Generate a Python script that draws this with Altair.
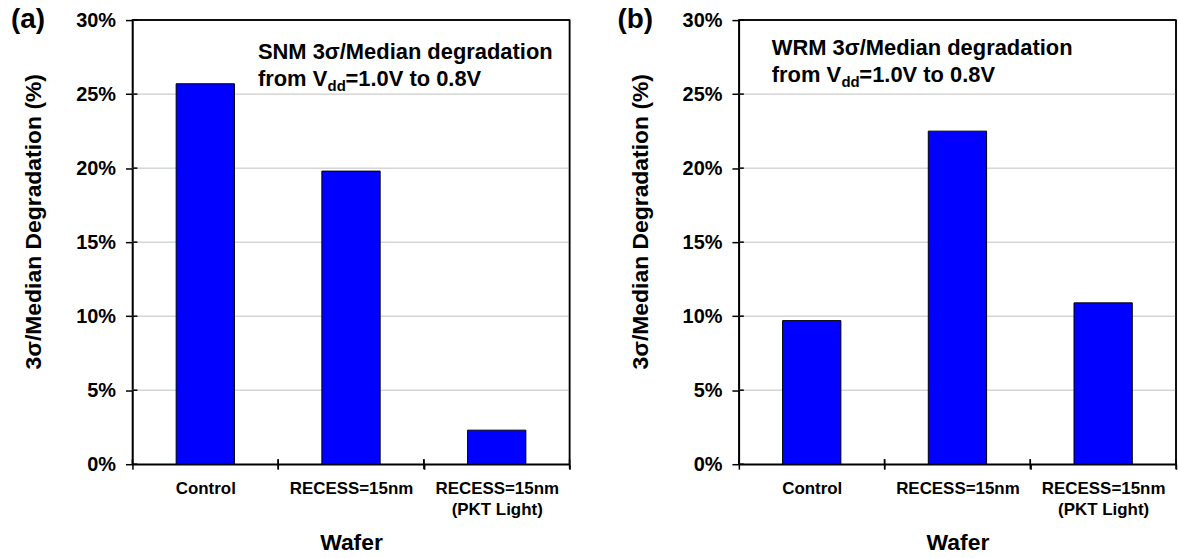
import altair as alt
import pandas as pd

categories = ["Control", "RECESS=15nm", "RECESS=15nm (PKT Light)"]
snm_values = [25.7, 19.8, 2.3]
wrm_values = [9.7, 22.5, 10.9]
y_ticks = [0, 5, 10, 15, 20, 25, 30]
grid_values = [5, 10, 15, 20, 25]

FONT = "Liberation Sans"
W, H = 439, 446


def panel(values, tag, metric, line1_x, line1_y):
    df = pd.DataFrame({"Wafer": categories, "v": values})
    tick_df = pd.DataFrame({"v": y_ticks})
    grid_df = pd.DataFrame({"v": grid_values})
    one = pd.DataFrame({"k": [0]})

    x_enc = alt.X(
        "Wafer:N",
        sort=categories,
        scale=alt.Scale(paddingInner=0, paddingOuter=0),
        axis=alt.Axis(
            title="Wafer",
            labelAngle=0,
            tickBand="extent",
            tickSize=5,
            tickColor="black",
            tickWidth=1.5,
            domainColor="black",
            domainWidth=1.5,
            labelFont=FONT,
            labelFontSize=17,
            labelFontWeight="bold",
            labelColor="black",
            labelPadding=11,
            labelLineHeight=22,
            labelExpr="datum.value == 'RECESS=15nm (PKT Light)' ? ['RECESS=15nm', '(PKT Light)'] : datum.label",
            titleFont=FONT,
            titleFontSize=23,
            titleFontWeight="bold",
            titleColor="black",
            titlePadding=14,
            grid=False,
        ),
    )
    y_enc = alt.Y(
        "v:Q",
        scale=alt.Scale(domain=[0, 30]),
        axis=alt.Axis(
            values=y_ticks,
            labelExpr="datum.value + '%'",
            title="3σ/Median Degradation (%)",
            tickSize=7,
            tickColor="black",
            tickWidth=1.5,
            domainColor="black",
            domainWidth=1.5,
            labelFont=FONT,
            labelFontSize=20,
            labelFontWeight="bold",
            labelColor="black",
            labelPadding=10,
            titleFont=FONT,
            titleFontSize=23,
            titleFontWeight="bold",
            titleColor="black",
            titleX=-87,
            titleY=202,
            titleAngle=-90,
            titleBaseline="bottom",
            titleAlign="center",
            grid=False,
        ),
    )

    bars = alt.Chart(df).mark_bar(
        width={"band": 0.4}, color="#0000ff", stroke="black", strokeWidth=1
    ).encode(x=x_enc, y=y_enc)
    grid = alt.Chart(grid_df).mark_rule(color="#c0c0c0", strokeWidth=1).encode(
        y=alt.Y("v:Q"), x=alt.value(0), x2=alt.value(W)
    )

    frame_top = alt.Chart(one).mark_rule(color="black", strokeWidth=1.5).encode(
        x=alt.value(0), x2=alt.value(W), y=alt.value(0)
    )
    frame_right = alt.Chart(one).mark_rule(color="black", strokeWidth=1.5).encode(
        x=alt.value(W), y=alt.value(0), y2=alt.value(H)
    )
    y_inner = alt.Chart(tick_df).mark_rule(color="black", strokeWidth=1.5).encode(
        y=alt.Y("v:Q"), x=alt.value(0), x2=alt.value(5)
    )
    x_inner0 = alt.Chart(df).mark_rule(color="black", strokeWidth=1.5).encode(
        x=alt.X("Wafer:N", sort=categories, bandPosition=0),
        y=alt.value(H),
        y2=alt.value(H - 5),
    )
    x_inner1 = alt.Chart(df).mark_rule(color="black", strokeWidth=1.5).encode(
        x=alt.X("Wafer:N", sort=categories, bandPosition=1),
        y=alt.value(H + 5),
        y2=alt.value(H - 5),
    )

    txt = dict(font=FONT, fontWeight="bold", color="black", align="left", baseline="alphabetic")
    label = alt.Chart(one).mark_text(
        text=tag, fontSize=28, font=FONT, fontWeight="bold", color="black",
        align="left", baseline="top"
    ).encode(x=alt.value(-122), y=alt.value(-14))
    l1 = alt.Chart(one).mark_text(
        text=metric + " 3σ/Median degradation", fontSize=22, **txt
    ).encode(x=alt.value(line1_x), y=alt.value(line1_y))
    l2a = alt.Chart(one).mark_text(text="from V", fontSize=22, **txt).encode(
        x=alt.value(line1_x), y=alt.value(line1_y + 27)
    )
    l2b = alt.Chart(one).mark_text(text="dd", fontSize=15, **txt).encode(
        x=alt.value(line1_x + 70), y=alt.value(line1_y + 32)
    )
    l2c = alt.Chart(one).mark_text(text="=1.0V to 0.8V", fontSize=22, **txt).encode(
        x=alt.value(line1_x + 88), y=alt.value(line1_y + 27)
    )

    return alt.layer(
        grid, bars, frame_top, frame_right, y_inner, x_inner0, x_inner1,
        label, l1, l2a, l2b, l2c
    ).properties(width=W, height=H)


pa = panel(snm_values, "(a)", "SNM", 126, 39)
pb = panel(wrm_values, "(b)", "WRM", 33, 35)

chart = (
    alt.hconcat(pa, pb, spacing=45)
    .properties(padding={"left": 10, "top": 4, "right": 0, "bottom": 0}, background="white")
    .configure_view(stroke="black", strokeWidth=1.5)
)

chart.save("out.html", embed_options={"renderer": "svg", "actions": False})
